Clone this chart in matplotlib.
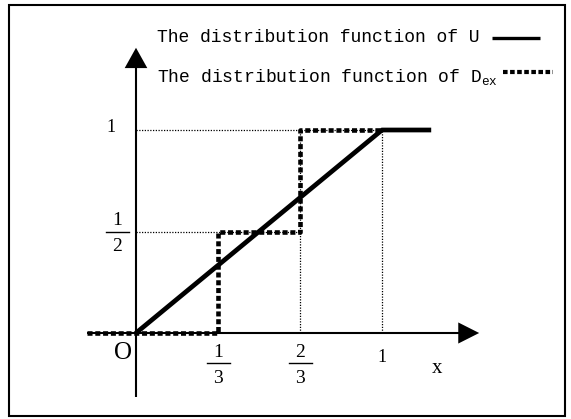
import matplotlib
matplotlib.use("Agg")
import matplotlib.pyplot as plt
from matplotlib.patches import Rectangle

plt.rcParams['mathtext.fontset'] = 'custom'
plt.rcParams['mathtext.rm'] = 'Liberation Mono'
plt.rcParams['mathtext.it'] = 'Liberation Mono'

# distribution function of U (uniform on [0, 1])
u_x = [0, 1, 1.2]
u_y = [0, 1, 1]

# distribution function of D_ex (steps at 1/3 and 2/3)
d_x = [-0.2, 1/3, 1/3, 2/3, 2/3, 1]
d_y = [0, 0, 0.5, 0.5, 1, 1]

# tick labels on the axes
x_ticks = [(1/3, '1', '3'), (2/3, '2', '3'), (1, '1', None)]
y_ticks = [(0.5, '1', '2'), (1, '1', None)]

legend_u = 'The distribution function of U'
legend_d = r'The distribution function of D$_{\mathrm{ex}}$'

W, H = 571, 419
X0, SX = 136, 246   # pixel position of x=0 and pixels per unit
Y0, SY = 333, 203

fig = plt.figure(figsize=(W / 100, H / 100), dpi=100)
ax = fig.add_axes([0, 0, 1, 1])
ax.set_xlim(-X0 / SX, (W - X0) / SX)
ax.set_ylim(-(H - Y0) / SY, Y0 / SY)
ax.axis('off')


def fx(px):
    return px / W


def fy(py):
    return 1 - py / H


# frame around the whole drawing
fig.patches.append(Rectangle((fx(9), fy(416)), fx(565) - fx(9), fy(5) - fy(416),
                             transform=fig.transFigure, fill=False,
                             edgecolor='black', linewidth=1.5))

# axes with arrow heads
ax.plot([-0.2, 1.33], [0, 0], color='black', lw=1.5, solid_capstyle='butt')
ax.fill([1.31, 1.395, 1.31], [0.052, 0, -0.052], color='black', lw=0)
ax.plot([0, 0], [-0.315, 1.33], color='black', lw=1.5, solid_capstyle='butt')
ax.fill([-0.046, 0, 0.046], [1.305, 1.405, 1.305], color='black', lw=0)

# thin dotted guide lines
guide = dict(color='black', lw=0.9, linestyle=(0, (1, 1.2)))
ax.plot([0, 1], [1, 1], **guide)
ax.plot([0, 2/3], [0.5, 0.5], **guide)
ax.plot([2/3, 2/3], [0, 1], **guide)
ax.plot([1, 1], [0, 1], **guide)

dot_style = dict(color='black', lw=3.3, linestyle=(0, (1.1, 0.6)),
                 dash_capstyle='butt')
ax.plot(d_x, d_y, **dot_style)
ax.plot(u_x, u_y, color='black', lw=3.4, solid_capstyle='butt')

serif = 'Liberation Serif'


def frac_label(x, y, num, den, size=14):
    # stacked fraction centred on (x, y) with a short bar
    half = 11.5 / SX
    ax.plot([x - half, x + half], [y, y], color='black', lw=1.0)
    ax.text(x, y + 11 / SY, num, ha='center', va='center', fontsize=size, family=serif)
    ax.text(x, y - 15 / SY, den, ha='center', va='center', fontsize=size, family=serif)


for xv, num, den in x_ticks:
    if den is None:
        ax.text(xv, -24 / SY, num, ha='center', va='center', fontsize=13, family=serif)
    else:
        frac_label(xv, -30 / SY, num, den)

for yv, num, den in y_ticks:
    if den is None:
        ax.text(-25 / SX, yv + 3 / SY, num, ha='center', va='center', fontsize=13, family=serif)
    else:
        frac_label(-19 / SX, yv, num, den)

ax.text(-13 / SX, -20 / SY, 'O', ha='center', va='center', fontsize=18, family=serif)
ax.text(301 / SX, -35 / SY, 'x', ha='center', va='center', fontsize=15, family=serif)

# legend drawn as text with line samples
mono = 'Liberation Mono'
ax.text(fx(157), fy(38), legend_u, transform=ax.transAxes, ha='left', va='center',
        fontsize=13, family=mono)
ax.plot([fx(492), fx(540)], [fy(38), fy(38)], transform=ax.transAxes,
        color='black', lw=2.4, solid_capstyle='butt')
ax.text(fx(157), fy(77), legend_d, transform=ax.transAxes, ha='left', va='center',
        fontsize=13, family=mono, math_fontfamily='custom')
ax.plot([fx(503), fx(553)], [fy(72), fy(72)], transform=ax.transAxes,
        color='black', lw=3.0, linestyle=(0, (1.1, 0.6)), dash_capstyle='butt')

fig.savefig('out.png', dpi=100)
